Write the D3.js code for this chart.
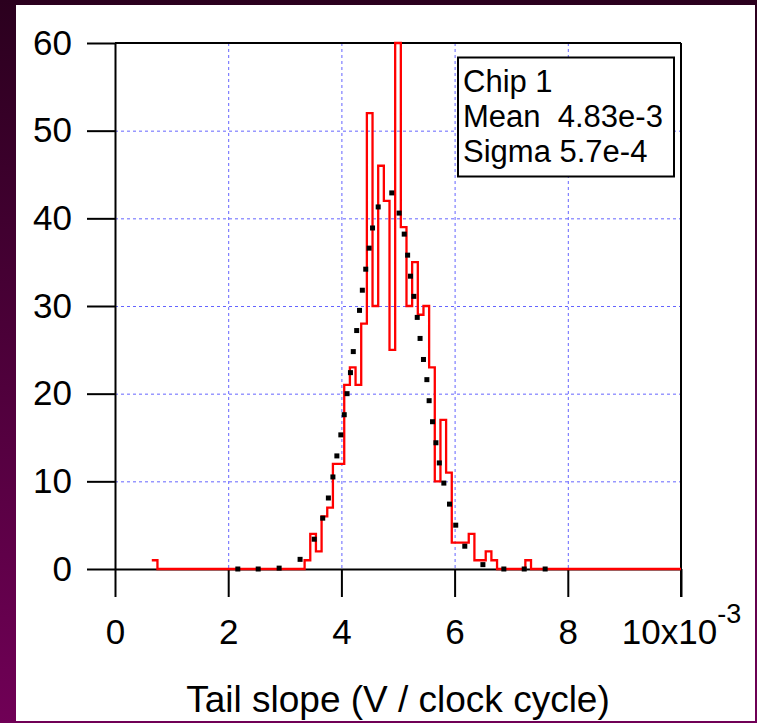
<!DOCTYPE html>
<html>
<head>
<meta charset="utf-8">
<script src="https://cdn.jsdelivr.net/npm/d3@7"></script>
<style>
  body { margin: 0; background: #3a0028; }
  svg { display: block; }
  text { font-family: "Liberation Sans", Arial, sans-serif; fill: #000; }
</style>
</head>
<body>
<svg id="chart"></svg>
<script>
const width = 757;
const height = 723;

// histogram bins, 0.1 (x1e-3) wide, first bin centred on 0.7, last on 10.0
const firstBin = 0.7;
const binWidth = 0.1;
const binCounts = [
  1,
  0, 0, 0, 0, 0, 0, 0, 0, 0, 0, 0, 0, 0, 0, 0, 0, 0, 0, 0, 0, 0, 0, 0, 0, 0, 0,
  1, 4, 2, 6, 7, 12, 12, 21, 23, 21, 28, 52, 30, 46, 42, 25,
  60, 39, 30, 35, 29, 30, 23, 10, 17, 11, 3, 3, 3, 4, 1, 1, 2, 1,
  0, 0, 0, 0, 0, 1,
  0, 0, 0, 0, 0, 0, 0, 0, 0, 0, 0, 0, 0, 0, 0, 0, 0, 0, 0, 0, 0, 0, 0, 0, 0, 0, 0
];

// dotted gaussian fit
const fitX = [2.17, 2.53, 2.90, 3.27, 3.52, 3.67, 3.77, 3.85, 3.92, 3.99, 4.05, 4.10,
  4.16, 4.21, 4.27, 4.32, 4.37, 4.43, 4.49, 4.55, 4.65, 4.89, 5.02, 5.11, 5.17,
  5.22, 5.28, 5.34, 5.39, 5.45, 5.51, 5.55, 5.61, 5.67, 5.73, 5.81, 5.91, 6.02,
  6.18, 6.50, 6.87, 7.23, 7.60];
const fitY = [0, 0, 0.1, 1.1, 3.4, 5.8, 8.1, 10.5, 12.9, 15.3, 17.6, 20.0,
  22.4, 24.8, 27.2, 29.5, 31.8, 34.2, 36.6, 38.9, 41.3, 42.9, 40.6, 38.2, 35.8,
  33.4, 31.1, 28.7, 26.3, 23.9, 21.6, 19.2, 16.8, 14.4, 12.1, 9.8, 7.4, 5.0,
  2.6, 0.5, 0, 0, 0];

const xTicks = [0, 2, 4, 6, 8, 10];
const yTicks = [0, 10, 20, 30, 40, 50, 60];
const xGrid = [2, 4, 6, 8];
const yGrid = [10, 20, 30, 40, 50];
const legendLines = ['Chip 1', 'Mean  4.83e-3', 'Sigma 5.7e-4'];
const xTitle = 'Tail slope (V / clock cycle)';

const svg = d3.select('#chart')
  .attr('width', width)
  .attr('height', height);

const x = d3.scaleLinear().domain([0, 10]).range([115, 681]);
const y = d3.scaleLinear().domain([0, 60]).range([569, 43]);

// purple slide background and white panel
const grad = svg.append('defs').append('linearGradient')
  .attr('id', 'bg').attr('x1', 0).attr('y1', 0).attr('x2', 0).attr('y2', 1);
grad.append('stop').attr('offset', 0).attr('stop-color', '#2b001e');
grad.append('stop').attr('offset', 1).attr('stop-color', '#700056');

svg.append('rect').attr('width', width).attr('height', height).attr('fill', 'url(#bg)');
svg.append('rect')
  .attr('x', 16).attr('y', 5)
  .attr('width', 739).attr('height', 716)
  .attr('fill', '#fff');

svg.select('defs').append('clipPath').attr('id', 'plot-clip')
  .append('rect')
  .attr('x', x(0)).attr('y', y(60) - 3)
  .attr('width', x(10) - x(0)).attr('height', y(0) - y(60) + 6);

// grid
const gridColor = '#6464ff';
svg.append('g').selectAll('line').data(yGrid).enter().append('line')
  .attr('x1', x(0)).attr('x2', x(10))
  .attr('y1', d => y(d) + 0.5).attr('y2', d => y(d) + 0.5)
  .attr('stroke', gridColor).attr('stroke-dasharray', '3,3');
svg.append('g').selectAll('line').data(xGrid).enter().append('line')
  .attr('x1', d => x(d) + 0.5).attr('x2', d => x(d) + 0.5)
  .attr('y1', y(60)).attr('y2', y(0))
  .attr('stroke', gridColor).attr('stroke-dasharray', '3,3');

// axes
const yAxis = svg.append('g')
  .attr('transform', `translate(${x(0)},0)`)
  .call(d3.axisLeft(y).tickValues(yTicks).tickSize(28).tickSizeOuter(0).tickPadding(15));

const xAxis = svg.append('g')
  .attr('transform', `translate(0,${y(0)})`)
  .call(d3.axisBottom(x).tickValues(xTicks).tickSize(28).tickSizeOuter(0).tickPadding(22));

[xAxis, yAxis].forEach(g => {
  g.attr('font-size', 35).attr('font-family', '"Liberation Sans", Arial, sans-serif');
  g.selectAll('line, path').attr('stroke', '#000').attr('stroke-width', 2);
});

xAxis.selectAll('.tick text').filter(d => d === 10)
  .text('10x10')
  .append('tspan').attr('dy', -21).attr('font-size', 27).text('-3');

// frame top and right
svg.append('line')
  .attr('x1', x(0)).attr('x2', x(10)).attr('y1', y(60)).attr('y2', y(60))
  .attr('stroke', '#000').attr('stroke-width', 2);
svg.append('line')
  .attr('x1', x(10)).attr('x2', x(10)).attr('y1', y(60)).attr('y2', y(0) + 28)
  .attr('stroke', '#000').attr('stroke-width', 2);

// legend box
const legend = svg.append('g');
legend.append('rect')
  .attr('x', 458).attr('y', 57.5)
  .attr('width', 216).attr('height', 119)
  .attr('fill', '#fff').attr('stroke', '#000').attr('stroke-width', 2);
legend.selectAll('text').data(legendLines).enter().append('text')
  .attr('x', 463)
  .attr('y', (d, i) => 92 + i * 35)
  .attr('font-size', 31)
  .style('white-space', 'pre')
  .text(d => d);

// histogram as a step line
const steps = binCounts.map((n, i) => [firstBin + i * binWidth - binWidth / 2, n]);
steps.push([firstBin + (binCounts.length - 0.5) * binWidth, binCounts[binCounts.length - 1]]);

svg.append('path')
  .datum(steps)
  .attr('clip-path', 'url(#plot-clip)')
  .attr('fill', 'none')
  .attr('stroke', '#ff0000')
  .attr('stroke-width', 2.3)
  .attr('d', d3.line().x(d => x(d[0])).y(d => y(d[1])).curve(d3.curveStepAfter));

// fit dots
svg.append('g').selectAll('rect').data(fitX).enter().append('rect')
  .attr('x', d => x(d) - 2.5)
  .attr('y', (d, i) => y(fitY[i]) - 2.5)
  .attr('width', 5).attr('height', 5)
  .attr('fill', '#000');

// axis title
svg.append('text')
  .attr('x', (x(0) + x(10)) / 2)
  .attr('y', 712)
  .attr('text-anchor', 'middle')
  .attr('font-size', 37)
  .text(xTitle);
</script>
</body>
</html>
